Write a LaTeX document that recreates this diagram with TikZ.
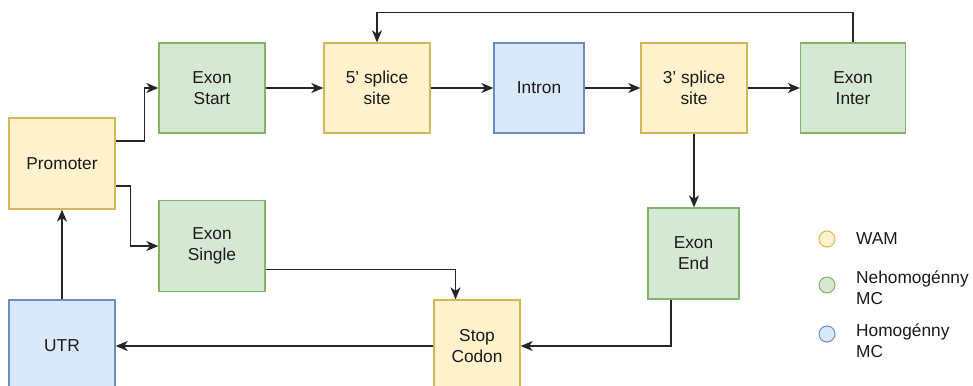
\documentclass[tikz,border=0pt]{standalone}
\usepackage{fontspec}
\setmainfont{Liberation Sans}
\usetikzlibrary{arrows.meta,calc}
\definecolor{yfill}{HTML}{FFF2CC}\definecolor{ydraw}{HTML}{D6B656}
\definecolor{gfill}{HTML}{D5E8D4}\definecolor{gdraw}{HTML}{82B366}
\definecolor{bfill}{HTML}{DAE8FC}\definecolor{bdraw}{HTML}{6C8EBF}
\definecolor{txt}{HTML}{1A1A1A}
\tikzset{
  box/.style={draw, line width=1.3pt, minimum width=#1, align=center, inner sep=0pt,
    font=\fontsize{17.3}{21}\selectfont, text=txt},
  wam/.style={box=#1, fill=yfill, draw=ydraw},
  nmc/.style={box=#1, fill=gfill, draw=gdraw},
  hmc/.style={box=#1, fill=bfill, draw=bdraw},
  arr/.style={line width=1.4pt, draw=black!85, -{Stealth[length=12pt,width=10pt,inset=3.5pt]}},
  legtext/.style={anchor=west, inner sep=0pt, align=left, text=txt, font=\fontsize{17.3}{21}\selectfont},
  dot/.style={circle, line width=1pt, minimum size=16pt, inner sep=0pt}
}
\begin{document}
\begin{tikzpicture}[x={(1pt,0)}, y={(0,-1pt)}]
\useasboundingbox (0,0) rectangle (973,385);
\clip (0,0) rectangle (973,385);
\node[wam=106pt, minimum height=91pt] (prom) at (62,163.5) {Promoter};
\node[nmc=106pt, minimum height=90pt] (estart) at (212,88) {Exon\\Start};
\node[wam=106pt, minimum height=90pt] (s5) at (377,88) {5' splice\\site};
\node[hmc=90pt, minimum height=90pt] (intron) at (539,88) {Intron};
\node[wam=106pt, minimum height=90pt] (s3) at (694,88) {3' splice\\site};
\node[nmc=105pt, minimum height=90pt] (einter) at (853,88) {Exon\\Inter};
\node[nmc=106pt, minimum height=91pt] (esingle) at (212,246) {Exon\\Single};
\node[nmc=91pt, minimum height=91pt] (eend) at (693.5,253.5) {Exon\\End};
\node[wam=86pt, minimum height=92pt] (stop) at (477,346) {Stop\\Codon};
\node[hmc=106pt, minimum height=92pt] (utr) at (62,346) {UTR};

\draw[arr] ($(prom.east)+(0,-22.5)$) -- ++(29,0) |- (estart.west);
\draw[arr] ($(prom.east)+(0,22.5)$) -- ++(15,0) |- (esingle.west);
\draw[arr] (estart) -- (s5);
\draw[arr] (s5) -- (intron);
\draw[arr] (intron) -- (s3);
\draw[arr] (s3) -- (einter);
\draw[arr] (einter.north) -- ++(0,-30) -| (s5.north);
\draw[arr] (s3.south) -- (s3.south |- eend.north);
\draw[arr] ($(eend.south)+(-22.5,0)$) |- (stop.east);
\draw[arr] ($(esingle.east)+(0,23.5)$) -| ($(stop.north)+(-21.5,0)$);
\draw[arr] (stop.west) -- (utr.east);
\draw[arr] (utr.north) -- (prom.south);

\node[dot, fill=yfill, draw=ydraw] (l1) at (827,239) {};
\node[dot, fill=gfill, draw=gdraw] (l2) at (827,285) {};
\node[dot, fill=bfill, draw=bdraw] (l3) at (827,334) {};
\node[legtext] (t1) at (856,239) {WAM};
\node[legtext] (t2) at (856,288) {Nehomogénny\\MC};
\node[legtext] (t3) at (856,341) {Homogénny\\MC};
\end{tikzpicture}
\end{document}
